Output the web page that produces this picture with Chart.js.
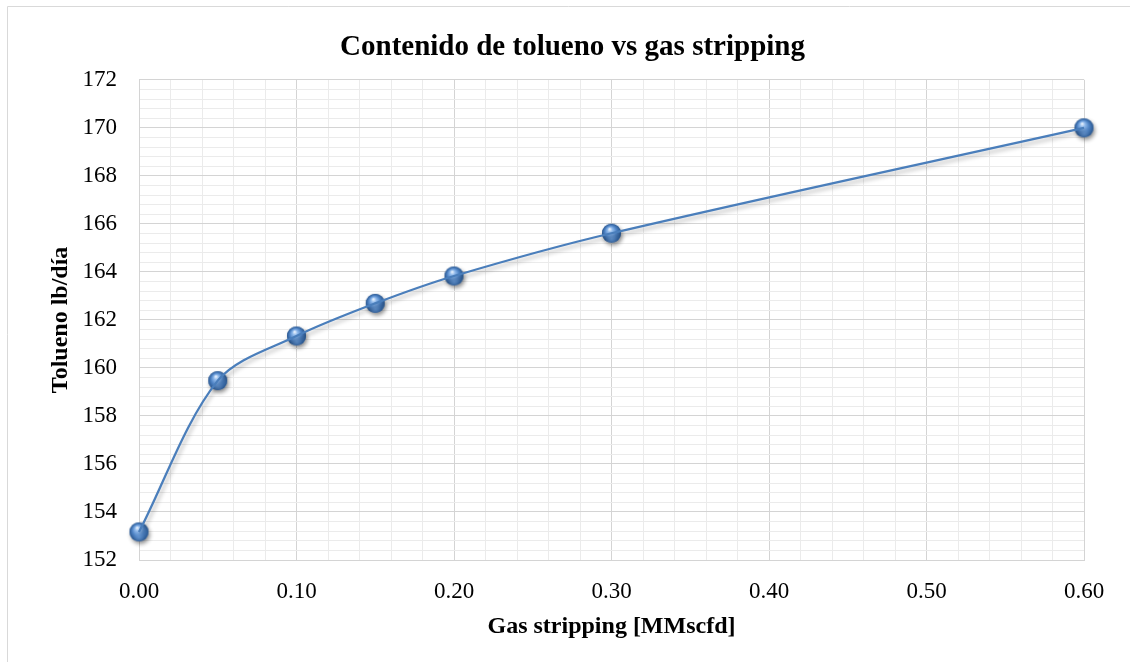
<!DOCTYPE html>
<html>
<head>
<meta charset="utf-8">
<title>Contenido de tolueno vs gas stripping</title>
<script src="https://cdn.jsdelivr.net/npm/chart.js@4.4.1/dist/chart.umd.min.js"></script>
<style>
  html, body { margin: 0; padding: 0; background: #ffffff; }
  #wrap { width: 1130px; height: 662px; position: relative; }
</style>
</head>
<body>
<div id="wrap"><canvas id="chart" width="1130" height="662"></canvas></div>
<script>
// Gas stripping rate [MMscfd] and toluene content [lb/día]
const gasStripping = [0.00, 0.05, 0.10, 0.15, 0.20, 0.30, 0.60];
const tolueno = [153.17, 159.47, 161.33, 162.69, 163.83, 165.61, 170.00];

// Axis tick labels (major ticks)
const xTickLabels = ['0.00', '0.10', '0.20', '0.30', '0.40', '0.50', '0.60'];
const yTickLabels = ['152', '154', '156', '158', '160', '162', '164', '166', '168', '170', '172'];

const X_MAJOR = 0.1, X_MINOR = 0.02;
const Y_MIN = 152, Y_MAJOR = 2, Y_MINOR = 0.4;

const serif = '"Liberation Serif", "Times New Roman", Times, serif';
const MAJOR_GRID = '#d4d4d4';
const MINOR_GRID = '#ebebeb';
const LINE_BLUE = '#4a7ebb';

function majorIndex(v, origin, step) {
  const k = Math.round((v - origin) / step);
  return Math.abs(v - origin - k * step) < 1e-6 ? k : -1;
}

// Glossy sphere marker with a soft drop shadow
function makeSphere(r) {
  const size = Math.ceil(r * 2 + 14);
  const c = document.createElement('canvas');
  c.width = size; c.height = size;
  const g = c.getContext('2d');
  const cx = size / 2, cy = size / 2;
  g.save();
  g.shadowColor = 'rgba(0,0,0,0.45)';
  g.shadowBlur = 4;
  g.shadowOffsetX = 1.5;
  g.shadowOffsetY = 2.5;
  g.beginPath(); g.arc(cx, cy, r, 0, Math.PI * 2);
  g.fillStyle = '#3a6aa8';
  g.fill();
  g.restore();
  const grad = g.createRadialGradient(cx - r * 0.2, cy - r * 0.45, r * 0.05, cx, cy, r);
  grad.addColorStop(0, '#e8f1fc');
  grad.addColorStop(0.22, '#92bbec');
  grad.addColorStop(0.6, '#4f84c6');
  grad.addColorStop(1, '#2a578f');
  g.beginPath(); g.arc(cx, cy, r, 0, Math.PI * 2);
  g.fillStyle = grad;
  g.fill();
  // soft reflected light along the lower rim
  const rim = g.createRadialGradient(cx, cy + r * 0.55, 0, cx, cy + r * 0.55, r * 0.6);
  rim.addColorStop(0, 'rgba(130,175,230,0.45)');
  rim.addColorStop(1, 'rgba(130,175,230,0)');
  g.beginPath(); g.arc(cx, cy, r, 0, Math.PI * 2);
  g.fillStyle = rim;
  g.fill();
  return c;
}
const sphere = makeSphere(9.5);

// Outer frame of the chart box
const framePlugin = {
  id: 'frame',
  beforeDraw(chart) {
    const ctx = chart.ctx;
    ctx.save();
    ctx.strokeStyle = '#d9d9d9';
    ctx.lineWidth = 1;
    ctx.beginPath();
    ctx.moveTo(7.5, chart.height);
    ctx.lineTo(7.5, 6.5);
    ctx.lineTo(chart.width, 6.5);
    ctx.stroke();
    ctx.restore();
  }
};

// Drop shadow under the smoothed line only
const lineShadowPlugin = {
  id: 'lineShadow',
  beforeDatasetDraw(chart, args) {
    if (args.index !== 0) return;
    const ctx = chart.ctx;
    ctx.save();
    ctx.shadowColor = 'rgba(0,0,0,0.28)';
    ctx.shadowBlur = 4;
    ctx.shadowOffsetX = 2;
    ctx.shadowOffsetY = 3;
  },
  afterDatasetDraw(chart, args) {
    if (args.index !== 0) return;
    chart.ctx.restore();
  }
};

const points = gasStripping.map((x, i) => ({ x: x, y: tolueno[i] }));

new Chart(document.getElementById('chart'), {
  type: 'scatter',
  data: {
    datasets: [
      {
        data: points,
        showLine: true,
        borderColor: LINE_BLUE,
        borderWidth: 2.25,
        tension: 0.32,
        pointRadius: 0,
        pointHoverRadius: 0,
        clip: false
      },
      {
        data: points,
        showLine: false,
        pointStyle: sphere,
        pointRadius: 10,
        pointHoverRadius: 10,
        clip: false
      }
    ]
  },
  plugins: [framePlugin, lineShadowPlugin],
  options: {
    responsive: false,
    animation: false,
    events: [],
    layout: { padding: { left: 15, right: 0, top: 0, bottom: 0 } },
    plugins: {
      legend: { display: false },
      tooltip: { enabled: false },
      title: {
        display: true,
        text: 'Contenido de tolueno vs gas stripping',
        color: '#000000',
        font: { family: serif, size: 29, weight: 'bold' },
        padding: { top: 30, bottom: 15 }
      }
    },
    scales: {
      x: {
        type: 'linear',
        min: 0,
        max: 0.6,
        border: { display: true, color: MAJOR_GRID, width: 1 },
        grid: {
          drawTicks: false,
          lineWidth: 1,
          color: (c) => (c.tick && majorIndex(c.tick.value, 0, X_MAJOR) >= 0) ? MAJOR_GRID : MINOR_GRID
        },
        ticks: {
          stepSize: X_MINOR,
          maxTicksLimit: 1000,
          autoSkip: false,
          maxRotation: 0,
          padding: 18,
          color: '#000000',
          font: { family: serif, size: 23 },
          callback: (v) => {
            const k = majorIndex(v, 0, X_MAJOR);
            return k >= 0 ? xTickLabels[k] : '';
          }
        },
        title: {
          display: true,
          text: 'Gas stripping [MMscfd]',
          color: '#000000',
          font: { family: serif, size: 24, weight: 'bold' },
          padding: { top: 0, bottom: 21 }
        },
        afterFit: (scale) => { scale.height = 102; scale.paddingRight = 46; }
      },
      y: {
        type: 'linear',
        min: 152,
        max: 172,
        border: { display: true, color: MAJOR_GRID, width: 1 },
        grid: {
          drawTicks: false,
          lineWidth: 1,
          color: (c) => (c.tick && majorIndex(c.tick.value, Y_MIN, Y_MAJOR) >= 0) ? MAJOR_GRID : MINOR_GRID
        },
        ticks: {
          stepSize: Y_MINOR,
          maxTicksLimit: 1000,
          autoSkip: false,
          padding: 22,
          color: '#000000',
          font: { family: serif, size: 23 },
          callback: (v) => {
            const k = majorIndex(v, Y_MIN, Y_MAJOR);
            return k >= 0 ? yTickLabels[k] : '';
          }
        },
        title: {
          display: true,
          text: 'Tolueno lb/día',
          color: '#000000',
          font: { family: serif, size: 24, weight: 'bold' },
          padding: { top: 31, bottom: 0 }
        },
        afterFit: (scale) => { scale.width = 124; }
      }
    }
  }
});
</script>
</body>
</html>
